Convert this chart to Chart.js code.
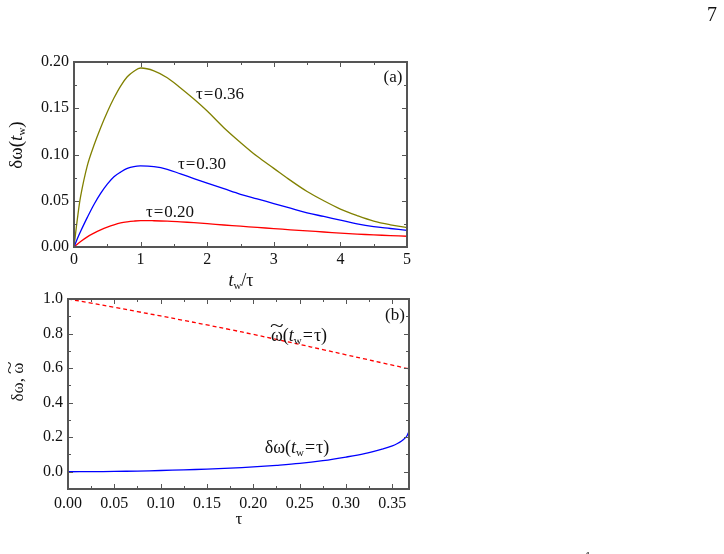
<!DOCTYPE html>
<html>
<head>
<meta charset="utf-8">
<script src="https://cdn.jsdelivr.net/npm/chart.js@4.4.0/dist/chart.umd.min.js"></script>
<style>
  body { margin: 0; background: #fff; }
  #wrap { position: relative; width: 724px; height: 554px; overflow: hidden; font-family: "Liberation Serif", "DejaVu Serif", serif; color: #111; }
  canvas { position: absolute; left: 0; top: 0; }
  .lbl { position: absolute; transform: translate(-50%, -50%); font-size: 17px; line-height: 1; white-space: nowrap; }
  .rot { transform: translate(-50%, -50%) rotate(-90deg); }
  sub { font-size: 11px; vertical-align: -3px; line-height: 0; }
  .eq { margin: 0 1px; }
  .tl { position: relative; display: inline-block; }
  .tl .tilde { position: absolute; left: 0; right: 0; top: -0.5em; text-align: center; transform: scaleX(1.4); }
</style>
</head>
<body>
<div id="wrap">
  <canvas id="panel-a" width="724" height="554"></canvas>
  <canvas id="panel-b" width="724" height="554"></canvas>

  <div class="lbl" style="left:712px; top:14px; font-size:20px;">7</div>
  <div class="lbl" style="left:588px; top:556px; font-size:12px;">1</div>

  <div class="lbl" style="left:393px; top:76px;">(a)</div>
  <div class="lbl" style="left:220px; top:93px;">τ<span class="eq">=</span>0.36</div>
  <div class="lbl" style="left:202px; top:163px;">τ<span class="eq">=</span>0.30</div>
  <div class="lbl" style="left:170px; top:211px;">τ<span class="eq">=</span>0.20</div>
  <div class="lbl" style="left:241px; top:280px; font-size:18px;"><i>t</i><sub>w</sub>/τ</div>
  <div class="lbl rot" style="left:15px; top:145px; font-size:19px;">δω(<i>t</i><sub>w</sub>)</div>

  <div class="lbl" style="left:395px; top:314px;">(b)</div>
  <div class="lbl" style="left:299px; top:335px; font-size:18px;"><span class="tl">ω<span class="tilde">~</span></span>(<i>t</i><sub>w</sub><span class="eq">=</span>τ)</div>
  <div class="lbl" style="left:297px; top:447px; font-size:18px;">δω(<i>t</i><sub>w</sub><span class="eq">=</span>τ)</div>
  <div class="lbl" style="left:239px; top:518px;">τ</div>
  <div class="lbl rot" style="left:17px; top:382px;">δω, <span class="tl">ω<span class="tilde">~</span></span></div>
</div>
<script>
// panel (a): δω(t_w) against t_w/τ
const tRatio = [0, 0.05, 0.1, 0.2, 0.3, 0.4, 0.5, 0.6, 0.7, 0.8, 0.9, 1.0, 1.2, 1.4, 1.6, 1.8, 2.0, 2.25, 2.5, 2.75, 3.0, 3.25, 3.5, 3.75, 4.0, 4.25, 4.5, 4.75, 5.0];
const dw036 = [0, 0.030, 0.055, 0.088, 0.110, 0.129, 0.146, 0.161, 0.174, 0.184, 0.190, 0.1935, 0.1905, 0.183, 0.172, 0.160, 0.147, 0.129, 0.113, 0.098, 0.085, 0.072, 0.060, 0.050, 0.041, 0.034, 0.028, 0.024, 0.021];
const dw030 = [0, 0.009, 0.017, 0.032, 0.046, 0.058, 0.068, 0.076, 0.081, 0.085, 0.087, 0.0876, 0.0868, 0.084, 0.079, 0.074, 0.069, 0.063, 0.057, 0.052, 0.047, 0.042, 0.037, 0.033, 0.029, 0.025, 0.022, 0.020, 0.018];
const dw020 = [0, 0.003, 0.006, 0.011, 0.015, 0.0185, 0.0215, 0.024, 0.026, 0.0272, 0.028, 0.0285, 0.0284, 0.028, 0.0272, 0.0263, 0.0252, 0.0238, 0.0225, 0.0212, 0.0199, 0.0186, 0.0174, 0.0162, 0.0151, 0.0140, 0.0131, 0.0123, 0.0116];
const xTicksA = [0, 1, 2, 3, 4, 5];
const xMinorA = [0.5, 1.5, 2.5, 3.5, 4.5];
const yTicksA = [0, 0.05, 0.10, 0.15, 0.20];
const yMinorA = [0.025, 0.075, 0.125, 0.175];

// panel (b): δω and ω~ at t_w = τ
const tauVals = [0, 0.025, 0.05, 0.075, 0.1, 0.125, 0.15, 0.175, 0.2, 0.225, 0.25, 0.275, 0.3, 0.32, 0.34, 0.35, 0.355, 0.36, 0.364, 0.366, 0.368];
const dwTau = [0, 0.0005, 0.002, 0.004, 0.007, 0.011, 0.015, 0.021, 0.028, 0.037, 0.048, 0.064, 0.085, 0.105, 0.133, 0.150, 0.162, 0.178, 0.196, 0.210, 0.235];
const omegaTilde = [1.0, 0.976, 0.952, 0.927, 0.902, 0.876, 0.850, 0.823, 0.795, 0.766, 0.737, 0.707, 0.677, 0.653, 0.629, 0.617, 0.611, 0.605, 0.600, 0.598, 0.596];
const xTicksB = [0, 0.05, 0.10, 0.15, 0.20, 0.25, 0.30, 0.35];
const xMinorB = [0.025, 0.075, 0.125, 0.175, 0.225, 0.275, 0.325];
const yTicksB = [0, 0.2, 0.4, 0.6, 0.8, 1.0];
const yMinorB = [-0.1, 0.1, 0.3, 0.5, 0.7, 0.9];

const toPoints = (xs, ys) => xs.map((x, i) => ({ x: x, y: ys[i] }));

const FONT = { family: "'Liberation Serif', 'DejaVu Serif', serif", size: 16 };
const AXIS = "#555";

// inward ticks on all four sides plus the frame
const frameTicks = {
  id: "frameTicks",
  afterDatasetsDraw(chart, args, opts) {
    const { ctx, chartArea: a, scales } = chart;
    ctx.save();
    ctx.strokeStyle = AXIS;
    ctx.lineWidth = 1;
    const drawX = (vals, len) => {
      vals.forEach((v) => {
        const px = Math.round(scales.x.getPixelForValue(v)) + 0.5;
        ctx.beginPath();
        ctx.moveTo(px, a.bottom); ctx.lineTo(px, a.bottom - len);
        ctx.moveTo(px, a.top); ctx.lineTo(px, a.top + len);
        ctx.stroke();
      });
    };
    const drawY = (vals, len) => {
      vals.forEach((v) => {
        const py = Math.round(scales.y.getPixelForValue(v)) + 0.5;
        ctx.beginPath();
        ctx.moveTo(a.left, py); ctx.lineTo(a.left + len, py);
        ctx.moveTo(a.right, py); ctx.lineTo(a.right - len, py);
        ctx.stroke();
      });
    };
    drawX(opts.xMajor, 5);
    drawX(opts.xMinor, 3);
    drawY(opts.yMajor, 5);
    drawY(opts.yMinor, 3);
    ctx.lineWidth = 2;
    ctx.strokeRect(a.left, a.top, a.right - a.left, a.bottom - a.top);
    ctx.restore();
  },
};

const makeScale = (min, max, ticks, fmt, size, isY, pad) => ({
  type: "linear",
  min: min,
  max: max,
  afterBuildTicks: (scale) => {
    scale.ticks = ticks.map((v) => ({ value: v }));
  },
  afterFit: (scale) => {
    if (isY) scale.width = size;
    else scale.height = size;
  },
  grid: { display: false, drawTicks: false },
  border: { display: false },
  ticks: {
    color: "#111",
    font: FONT,
    padding: pad,
    maxRotation: 0,
    autoSkip: false,
    callback: (value) => fmt(value),
  },
});

const lineSet = (data, color, dash) => ({
  data: data,
  borderColor: color,
  backgroundColor: color,
  borderWidth: 1.3,
  borderDash: dash || [],
  pointRadius: 0,
  tension: 0.35,
  fill: false,
});

const graficoA = new Chart(document.getElementById("panel-a"), {
  type: "line",
  data: {
    datasets: [
      lineSet(toPoints(tRatio, dw036), "#808000"),
      lineSet(toPoints(tRatio, dw030), "#0000ff"),
      lineSet(toPoints(tRatio, dw020), "#ff0000"),
    ],
  },
  options: {
    responsive: false,
    animation: false,
    layout: { padding: { left: 0, right: 317, top: 62, bottom: 282 } },
    scales: {
      x: makeScale(0, 5, xTicksA, (v) => String(v), 25, false, 3),
      y: makeScale(0, 0.2, yTicksA, (v) => v.toFixed(2), 74, true, 5),
    },
    plugins: {
      legend: { display: false },
      tooltip: { enabled: false },
      frameTicks: { xMajor: xTicksA, xMinor: xMinorA, yMajor: yTicksA, yMinor: yMinorA },
    },
  },
  plugins: [frameTicks],
});

const graficoB = new Chart(document.getElementById("panel-b"), {
  type: "line",
  data: {
    datasets: [
      lineSet(toPoints(tauVals, omegaTilde), "#ff0000", [4, 3]),
      lineSet(toPoints(tauVals, dwTau), "#0000ff"),
    ],
  },
  options: {
    responsive: false,
    animation: false,
    layout: { padding: { left: 0, right: 315, top: 299, bottom: 40 } },
    scales: {
      x: makeScale(0, 0.368, xTicksB, (v) => v.toFixed(2), 25, false, 5),
      y: makeScale(-0.1, 1.0, yTicksB, (v) => v.toFixed(1), 68, true, 5),
    },
    plugins: {
      legend: { display: false },
      tooltip: { enabled: false },
      frameTicks: { xMajor: xTicksB, xMinor: xMinorB, yMajor: yTicksB, yMinor: yMinorB },
    },
  },
  plugins: [frameTicks],
});
</script>
</body>
</html>
